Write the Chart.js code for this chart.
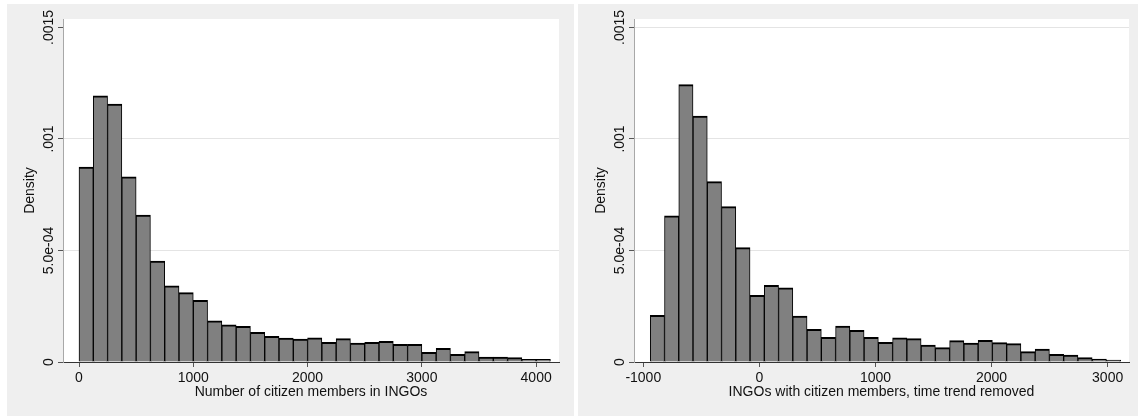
<!DOCTYPE html>
<html>
<head>
<meta charset="utf-8">
<script src="https://cdn.jsdelivr.net/npm/chart.js@4.4.0/dist/chart.umd.min.js"></script>
<style>
  html, body { margin: 0; padding: 0; background: #fff; }
  body { width: 1138px; height: 416px; position: relative; overflow: hidden; }
  canvas { position: absolute; top: 4px; background: #efefef; }
  #leftChart { left: 7px; }
  #rightChart { left: 578px; }
</style>
</head>
<body>
<canvas id="leftChart" width="567" height="412"></canvas>
<canvas id="rightChart" width="560" height="412"></canvas>
<script>
// histogram bins (bar centres) and densities
var leftBins = [62.5, 187.5, 312.5, 437.5, 562.5, 687.5, 812.5, 937.5, 1062.5, 1187.5,
    1312.5, 1437.5, 1562.5, 1687.5, 1812.5, 1937.5, 2062.5, 2187.5, 2312.5, 2437.5,
    2562.5, 2687.5, 2812.5, 2937.5, 3062.5, 3187.5, 3312.5, 3437.5, 3562.5, 3687.5,
    3812.5, 3937.5, 4062.5];
var leftDensity = [0.000874, 0.001193, 0.001157, 0.000830, 0.000659, 0.000453, 0.000341, 0.000311, 0.000277, 0.000185,
    0.000167, 0.000160, 0.000133, 0.000115, 0.000107, 0.000103, 0.000108, 0.0000883, 0.000105, 0.0000852,
    0.0000883, 0.0000927, 0.0000792, 0.0000792, 0.0000433, 0.0000613, 0.0000344, 0.0000463, 0.0000224, 0.0000224,
    0.0000194, 0.000012, 0.000012];

var rightBins = [-878.6, -755.8, -633, -510.2, -387.4, -264.6, -141.8, -19, 103.8, 226.6,
    349.4, 472.2, 595, 717.8, 840.6, 963.4, 1086.2, 1209, 1331.8, 1454.6,
    1577.4, 1700.2, 1823, 1945.8, 2068.6, 2191.4, 2314.2, 2437, 2559.8, 2682.6,
    2805.4, 2928.2, 3051];
var rightDensity = [0.000209, 0.000655, 0.001244, 0.001103, 0.000809, 0.000697, 0.000513, 0.000299, 0.000344, 0.000333,
    0.000206, 0.000147, 0.000111, 0.000161, 0.000142, 0.000111, 0.0000883, 0.000108, 0.000105, 0.0000762,
    0.0000643, 0.0000957, 0.0000852, 0.0000972, 0.0000867, 0.0000822, 0.0000463, 0.0000583, 0.0000344, 0.0000314,
    0.0000194, 0.0000135, 0.000009];

var yTicks = [0, 0.0005, 0.001, 0.0015];
var yTickLabels = ['0', '5.0e-04', '.001', '.0015'];
var leftXTicks = [0, 1000, 2000, 3000, 4000];
var rightXTicks = [-1000, 0, 1000, 2000, 3000];

var FONT = '"Liberation Sans", Arial, sans-serif';
Chart.defaults.font.family = FONT;
Chart.defaults.font.size = 14;
Chart.defaults.color = '#111';

// white plot region on the grey panel
var plotBg = {
    id: 'plotBg',
    beforeDraw: function (chart) {
        var a = chart.chartArea, ctx = chart.ctx;
        ctx.save();
        ctx.fillStyle = '#ffffff';
        ctx.fillRect(a.left, a.top, a.right - a.left, a.bottom - a.top);
        ctx.restore();
    }
};

// vertical (rotated) y tick labels, stata style
var yLabels = {
    id: 'yLabels',
    afterDraw: function (chart) {
        var ctx = chart.ctx, s = chart.scales.y;
        ctx.save();
        ctx.font = '14px ' + FONT;
        ctx.fillStyle = '#111';
        ctx.textAlign = 'center';
        ctx.textBaseline = 'alphabetic';
        for (var i = 0; i < yTicks.length; i++) {
            ctx.save();
            ctx.translate(s.right - 10, s.getPixelForValue(yTicks[i]));
            ctx.rotate(-Math.PI / 2);
            ctx.fillText(yTickLabels[i], 0, 0);
            ctx.restore();
        }
        ctx.restore();
    }
};

function makeHist(id, bins, values, xTicks, xMin, xMax, xTitle, padRight, topGrid) {
    var ctx = document.getElementById(id).getContext('2d');
    return new Chart(ctx, {
        type: 'bar',
        data: {
            datasets: [{
                data: bins.map(function (b, i) { return {x: b, y: values[i]}; }),
                backgroundColor: '#808080',
                borderColor: '#000000',
                borderWidth: {top: 2, left: 1, right: 1, bottom: 0},
                borderSkipped: 'start',
                barPercentage: 1,
                categoryPercentage: 1
            }]
        },
        options: {
            responsive: false,
            animation: false,
            devicePixelRatio: 1,
            layout: {padding: {top: 15, right: padRight, bottom: 0, left: 0}},
            plugins: {legend: {display: false}, tooltip: {enabled: false}},
            scales: {
                x: {
                    type: 'linear',
                    offset: false,
                    min: xMin,
                    max: xMax,
                    afterBuildTicks: function (s) { s.ticks = xTicks.map(function (v) { return {value: v}; }); },
                    afterFit: function (s) { s.height = 54; },
                    ticks: {
                        padding: 3, maxRotation: 0, autoSkip: false,
                        callback: function (v) { return String(v); }
                    },
                    grid: {offset: false, drawOnChartArea: false, tickLength: 5, tickColor: '#555'},
                    border: {color: '#333', width: 1},
                    title: {display: true, text: xTitle, padding: {top: 0, bottom: 15}}
                },
                y: {
                    min: 0,
                    max: 0.001538,
                    afterBuildTicks: function (s) { s.ticks = yTicks.map(function (v) { return {value: v}; }); },
                    afterFit: function (s) { s.width = 56; },
                    ticks: {display: false},
                    grid: {
                        color: function (c) {
                            var v = c.tick ? c.tick.value : 0;
                            return (v > 0 && (topGrid || v < 0.0015)) ? '#e4e4e4' : 'rgba(0,0,0,0)';
                        },
                        tickLength: 5,
                        tickColor: '#555'
                    },
                    border: {color: '#a8a8a8', width: 1},
                    title: {display: true, text: 'Density', padding: {top: 15, bottom: 0}}
                }
            }
        },
        plugins: [plotBg, yLabels]
    });
}

makeHist('leftChart', leftBins, leftDensity, leftXTicks, -140, 4200,
    'Number of citizen members in INGOs', 15, false);
makeHist('rightChart', rightBins, rightDensity, rightXTicks, -1080, 3184,
    'INGOs with citizen members, time trend removed', 9, true);
</script>
</body>
</html>
